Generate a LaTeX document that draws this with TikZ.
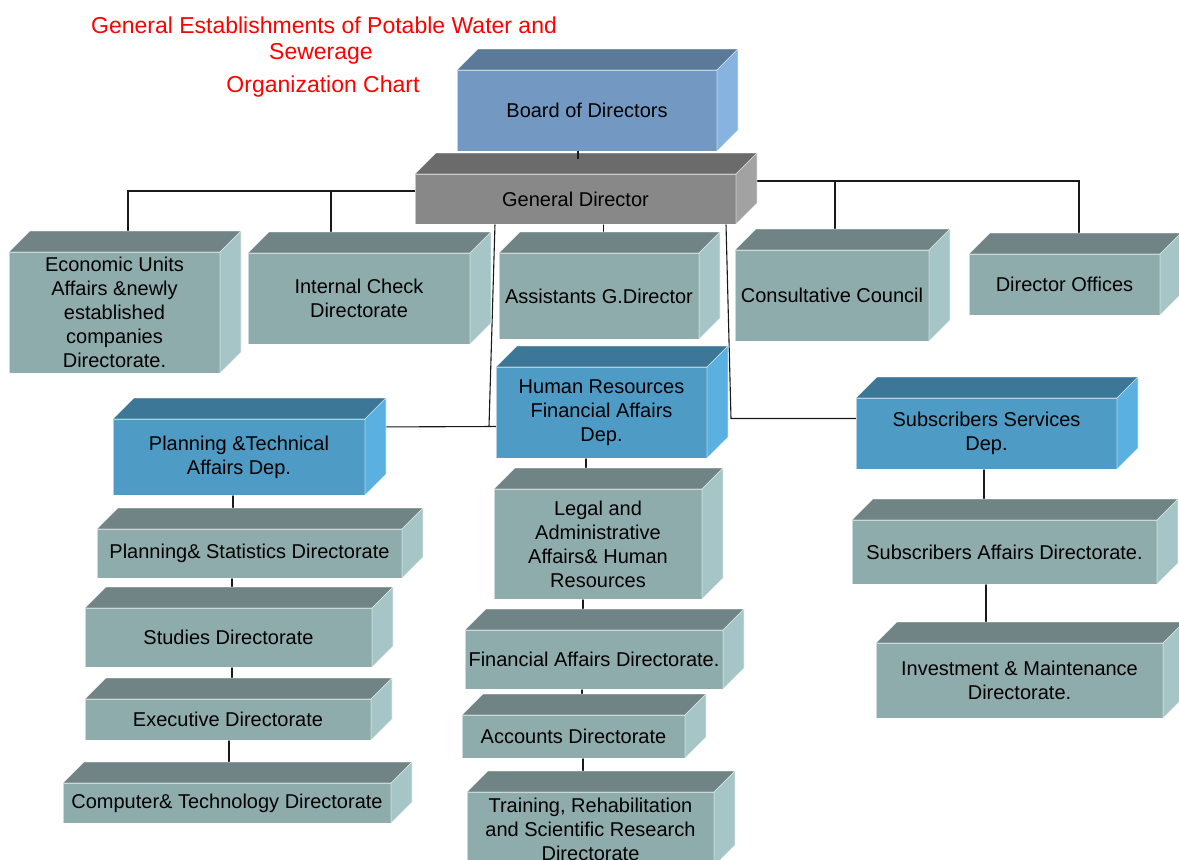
\documentclass[tikz,border=0pt]{standalone}
\usepackage{fontspec}
\setmainfont{Liberation Sans}
\usetikzlibrary{calc}

% face colours of the three-dimensional boxes
\definecolor{tealfront}{RGB}{143,172,173}
\definecolor{tealtop}{RGB}{113,132,133}
\definecolor{tealside}{RGB}{166,197,199}
\definecolor{depfront}{RGB}{78,155,197}
\definecolor{deptop}{RGB}{61,119,151}
\definecolor{depside}{RGB}{90,176,224}
\definecolor{boardfront}{RGB}{115,153,195}
\definecolor{boardtop}{RGB}{91,122,154}
\definecolor{boardside}{RGB}{135,179,224}
\definecolor{gdfront}{RGB}{136,136,136}
\definecolor{gdtop}{RGB}{107,107,107}
\definecolor{gdside}{RGB}{162,162,162}
\definecolor{titlered}{RGB}{255,0,0}

\pgfdeclarelayer{background}
\pgfsetlayers{background,main}

\tikzset{
  cubeface/.style={draw=white, draw opacity=0.55, line width=0.6pt},
  cubefront/.style={cubeface, rectangle, inner sep=0pt, outer sep=0pt,
    align=center, text=black, font=\fontsize{20}{24}\selectfont},
  link/.style={draw=black!90, line width=1.1pt},
  titletext/.style={text=titlered, font=\fontsize{23}{27}\selectfont, inner sep=0pt},
}

% depth of the boxes
\newcommand\dd{21}

% \cubebox{name}{centre}{width}{height}{colour set}{text}
\newcommand\cubebox[6]{%
  \node[cubefront, fill=#5front, minimum width=#3pt, minimum height=#4pt] (#1) at (#2) {#6};
  \path[cubeface, fill=#5top] (#1.north west) -- ++(\dd,-\dd)
     -- ($(#1.north east)+(\dd,-\dd)$) -- (#1.north east) -- cycle;
  \path[cubeface, fill=#5side] (#1.north east) -- ++(\dd,-\dd)
     -- ($(#1.south east)+(\dd,-\dd)$) -- (#1.south east) -- cycle;
}

% \vlink{upper}{lower}{x offset from upper.south}
\newcommand\vlink[3]{%
  \draw[link] ($(#1.south)+(#3,0)$) coordinate (#1-#2-a) -- (#1-#2-a |- #2.north);
}

\begin{document}
\begin{tikzpicture}[x=1pt,y=-1pt]
\useasboundingbox (0,0) rectangle (1179,860);
\clip (0,0) rectangle (1179,860);

% title
\node[titletext] (title1) at (324,25) {General Establishments of Potable Water and};
\node[titletext] (title2) at (321,54) {Sewerage};
\node[titletext] (title3) at (323,87) {Organization Chart};

% top of the hierarchy
\cubebox{board}{587,110.5}{260}{81}{board}{Board of Directors}
\cubebox{gd}{575.5,199}{321}{50}{gd}{General Director}

% first row of directorates
\cubebox{econ}{114.5,312.5}{211}{121}{teal}{Economic Units\\Affairs \&newly\\established\\companies\\Directorate.}
\cubebox{internal}{359,298.5}{222}{91}{teal}{Internal Check\\Directorate}
\cubebox{assist}{599,296}{200}{86}{teal}{Assistants G.Director}
\cubebox{consult}{832,295.5}{194}{91}{teal}{Consultative Council}
\cubebox{offices}{1064.5,284.5}{191}{61}{teal}{Director Offices}

% departments
\cubebox{hr}{601.5,412.5}{211}{91}{dep}{Human Resources\\Financial Affairs\\Dep.}
\cubebox{ptech}{239,457}{252}{76}{dep}{Planning \&Technical\\Affairs Dep.}
\cubebox{subserv}{986.5,433.5}{261}{71}{dep}{Subscribers Services\\Dep.}

% planning column
\cubebox{pstat}{249.5,553.5}{305}{49}{teal}{Planning\& Statistics Directorate}
\cubebox{studies}{228.5,637.5}{287}{59}{teal}{Studies Directorate}
\cubebox{exec}{228,719.5}{286}{41}{teal}{Executive Directorate}
\cubebox{comp}{227,803}{328}{40}{teal}{Computer\& Technology Directorate}

% human resources column
\cubebox{legal}{598,544}{208}{110}{teal}{Legal and\\Administrative\\Affairs\& Human\\Resources}
\cubebox{fin}{594,659.5}{258}{59}{teal}{Financial Affairs Directorate.}
\cubebox{acc}{573.5,736.5}{223}{43}{teal}{Accounts Directorate}
\cubebox{train}{590.5,829}{247}{74}{teal}{Training, Rehabilitation\\and Scientific Research\\Directorate}

% subscribers column
\cubebox{subaff}{1004.5,552}{305}{64}{teal}{Subscribers Affairs Directorate.}
\cubebox{invest}{1019.5,680.5}{287}{75}{teal}{Investment \& Maintenance\\Directorate.}

% short tick between the board and the general director, over the top face
\draw[link] ($(board.south)+(-9,0)$) -- ++(0,8);

\begin{pgfonlayer}{background}
  \fill[white] (0,0) rectangle (1179,860);
  % board and general director
  \vlink{board}{gd}{-9}
  % branches to the left of the general director
  \draw[link] ($(gd.west)+(0,-8)$) -| ($(econ.north)+(13.5,0)$);
  \draw[link] ($(gd.west)+(0,-8)$) -| ($(internal.north)+(-28,0)$);
  % branches to the right of the general director
  \draw[link] ($(gd.east)+(0,-18)$) -| ($(offices.north)+(14.5,0)$);
  \draw[link] ($(gd.east)+(0,-18)$) -| ($(consult.north)+(3,0)$);
  % assistants
  \vlink{gd}{assist}{28}
  % departments
  \coordinate (lj) at ($(hr.west)+(-7,14)$);
  \draw[link] ($(gd.south west)+(80,0)$) -- (lj);
  \draw[link] ($(ptech.east)+(0,-30)$) -- ($(hr.west)+(0,14)$);
  \coordinate (rj) at ($(subserv.west)+(-125,-15)$);
  \draw[link] ($(gd.south east)+(-10,0)$) -- (rj) -- ($(subserv.west)+(5,-15)$);
  % planning column
  \vlink{ptech}{pstat}{-6}
  \vlink{pstat}{studies}{-17.5}
  \vlink{studies}{exec}{3.5}
  \vlink{exec}{comp}{1}
  % human resources column
  \vlink{hr}{legal}{-15.5}
  \vlink{legal}{fin}{-15}
  \vlink{fin}{acc}{-12}
  \vlink{acc}{train}{9.5}
  % subscribers column
  \vlink{subserv}{subaff}{-2.5}
  \vlink{subaff}{invest}{-18.5}
\end{pgfonlayer}
\end{tikzpicture}
\end{document}
